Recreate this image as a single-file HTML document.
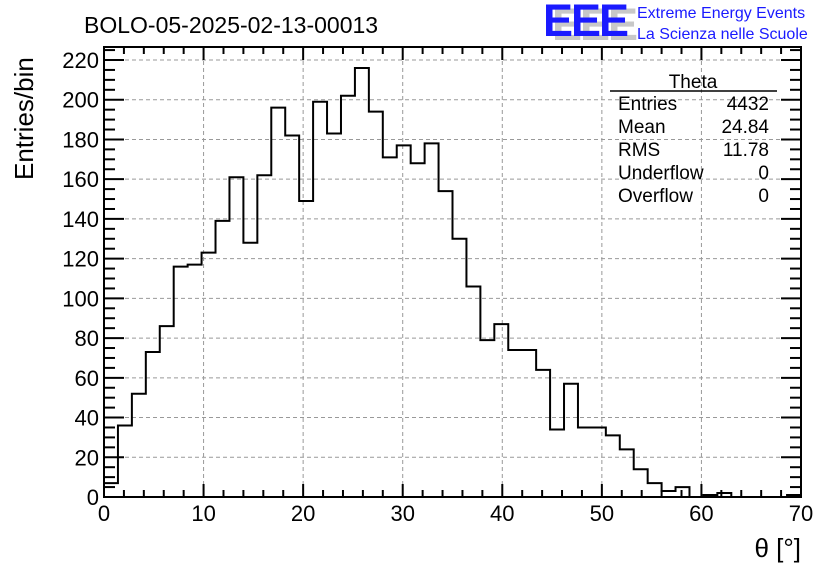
<!DOCTYPE html>
<html><head><meta charset="utf-8"><style>
body{margin:0;background:#fff;}
svg{display:block;font-family:"Liberation Sans",sans-serif;}
</style></head><body>
<svg id="chart" width="836" height="572" viewBox="0 0 836 572" xmlns="http://www.w3.org/2000/svg">
<rect width="836" height="572" fill="#fff"/>
<text x="84" y="33" font-size="23">BOLO-05-2025-02-13-00013</text>
<g>
<text x="552" y="40" font-size="45" font-weight="bold" fill="#c8c8c8" letter-spacing="-2">EEE</text>
<text x="543" y="36" font-size="45" font-weight="bold" fill="#1a1aff" letter-spacing="-2">EEE</text>
<text x="637" y="18" font-size="16" fill="#1a1aff">Extreme Energy Events</text>
<text x="637" y="39" font-size="16" fill="#1a1aff">La Scienza nelle Scuole</text>
</g>
<g id="grid"></g>
<g id="hist"></g>
<g id="axes"></g>
<g font-size="19">
<text x="693" y="88" text-anchor="middle">Theta</text>
<line x1="610" y1="91" x2="777" y2="91" stroke="#000" stroke-width="1.5"/>
<text x="618" y="110">Entries</text><text x="769" y="110" text-anchor="end">4432</text>
<text x="618" y="133">Mean</text><text x="769" y="133" text-anchor="end">24.84</text>
<text x="618" y="156">RMS</text><text x="769" y="156" text-anchor="end">11.78</text>
<text x="618" y="179">Underflow</text><text x="769" y="179" text-anchor="end">0</text>
<text x="618" y="202">Overflow</text><text x="769" y="202" text-anchor="end">0</text>
</g>
<text transform="translate(33,180) rotate(-90)" font-size="26">Entries/bin</text>
<text x="801" y="557" font-size="26" text-anchor="end">θ [°]</text>
</svg>
<script>
const counts=[7,36,52,73,86,116,117,123,139,161,128,162,196,182,149,199,183,202,216,194,171,177,168,178,154,130,106,79,87,74,74,64,34,57,35,35,31,24,14,7,3,5,0,1,2,0,0,0,0,1];
const xTicks=[0,10,20,30,40,50,60,70];
const yTicks=[0,20,40,60,80,100,120,140,160,180,200,220];
const xMin=0,xMax=70,yMin=0,yMax=220,binW=1.4;
const L=104,R=801,B=497,T=47,Y220=60;
const X=v=>L+(v-xMin)/(xMax-xMin)*(R-L);
const Y=v=>B-(v-yMin)/(yMax-yMin)*(B-Y220);
const NS='http://www.w3.org/2000/svg';
function mk(tag,attrs,parent){const e=document.createElementNS(NS,tag);for(const k in attrs)e.setAttribute(k,attrs[k]);parent.appendChild(e);return e;}
const grid=document.getElementById('grid'),axes=document.getElementById('axes'),hist=document.getElementById('hist');
xTicks.forEach(t=>{if(t>xMin&&t<xMax){const l=mk('line',{x1:X(t),x2:X(t),y1:T,y2:B,stroke:'#999','stroke-dasharray':'4,3'},grid);}});
yTicks.forEach(t=>{if(t>yMin){const l=mk('line',{x1:L,x2:R,y1:Y(t),y2:Y(t),stroke:'#999','stroke-dasharray':'4,3'},grid);}});
let d='M'+X(0)+','+Y(0);
counts.forEach((c,i)=>{d+=' L'+X(i*binW)+','+Y(c)+' L'+X((i+1)*binW)+','+Y(c);});
d+=' L'+X(counts.length*binW)+','+Y(0);
const p=mk('path',{d:d,fill:'none',stroke:'#000','stroke-width':2},hist);


const fr=mk('rect',{x:L,y:T,width:R-L,height:B-T,fill:'none',stroke:'#000','stroke-width':2},axes);


for(let v=xMin;v<=xMax;v+=2){const big=v%10===0,len=big?13:7;
mk('line',{x1:X(v),x2:X(v),y1:B,y2:B-len,stroke:'#000','stroke-width':2},axes);
mk('line',{x1:X(v),x2:X(v),y1:T,y2:T+len,stroke:'#000','stroke-width':2},axes);}
for(let v=yMin;v<=yMax+7;v+=5){const big=v%20===0,len=big?20:11;if(Y(v)<T)break;
mk('line',{x1:L,x2:L+len,y1:Y(v),y2:Y(v),stroke:'#000','stroke-width':2},axes);
mk('line',{x1:R,x2:R-len,y1:Y(v),y2:Y(v),stroke:'#000','stroke-width':2},axes);}
xTicks.forEach(t=>{const e=mk('text',{x:X(t),y:521,'font-size':22,'text-anchor':'middle'},axes);e.textContent=t;

});
yTicks.forEach(t=>{const e=mk('text',{x:99,y:Y(t)+8,'font-size':22,'text-anchor':'end'},axes);e.textContent=t;

});
</script>
</body></html>
